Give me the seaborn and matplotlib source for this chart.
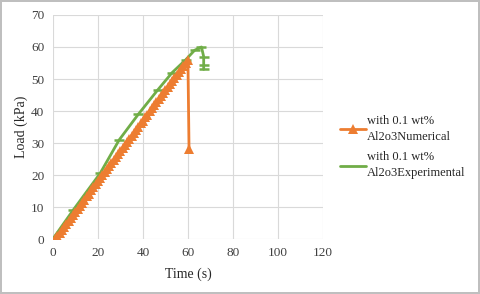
import numpy as np
import pandas as pd
import seaborn as sns
import matplotlib.pyplot as plt
from matplotlib.lines import Line2D

# numerical series (s, kPa)
num_time = [1, 2, 3, 4, 5, 6, 7, 8, 9, 10, 11, 12, 13, 14, 15, 16, 17, 18, 19, 20,
            21, 22, 23, 24, 25, 26, 27, 28, 29, 30, 31, 32, 33, 34, 35, 36, 37, 38, 39, 40,
            41, 42, 43, 44, 45, 46, 47, 48, 49, 50, 51, 52, 53, 54, 55, 56, 57, 58, 59, 60, 60.5]
num_load = [0, 0.9, 1.9, 2.8, 3.8, 4.7, 5.7, 6.6, 7.6, 8.5, 9.5, 10.4, 11.4, 12.3, 13.3,
            14.2, 15.2, 16.1, 17.1, 18.0, 19.0, 19.9, 20.9, 21.8, 22.8, 23.7, 24.7, 25.6,
            26.6, 27.5, 28.5, 29.4, 30.4, 31.3, 32.3, 33.2, 34.2, 35.1, 36.1, 37.0, 38.0,
            38.9, 39.9, 40.8, 41.8, 42.7, 43.7, 44.6, 45.6, 46.5, 47.5, 48.4, 49.4, 50.3,
            51.3, 52.2, 53.2, 54.1, 55.1, 56.0, 28.0]

# experimental series
exp_time = [0, 9, 21, 29.5, 38, 46.5, 53, 59, 63, 66, 67, 67, 67]
exp_load = [0, 9, 20.5, 31, 39, 46.5, 52, 56, 59, 60, 57, 54.5, 53]

orange = '#ED7D31'
green = '#70AD47'

df_num = pd.DataFrame({'t': num_time, 'load': num_load})
df_exp = pd.DataFrame({'t': exp_time, 'load': exp_load})

sns.set_style('white')
plt.rcParams['font.family'] = ['Liberation Serif', 'DejaVu Serif']

fig = plt.figure(figsize=(4.8, 2.94), dpi=100, edgecolor='#BFBFBF', linewidth=1.5)
ax = fig.add_axes([0.110, 0.187, 0.563, 0.762])

sns.lineplot(data=df_exp, x='t', y='load', sort=False, estimator=None, color=green,
             linewidth=2, marker='_', markersize=7, markeredgewidth=1.8,
             markeredgecolor=green, ax=ax)
sns.lineplot(data=df_num, x='t', y='load', sort=False, estimator=None, color=orange,
             linewidth=2, marker='^', markersize=7.5, markeredgewidth=0, ax=ax)

ax.set_xlim(0, 120)
ax.set_ylim(0, 70)
ax.set_xticks(range(0, 121, 20))
ax.set_yticks(range(0, 71, 10))
ax.grid(True, color='#D9D9D9', linewidth=0.8)
ax.set_axisbelow(True)
for s in ax.spines.values():
    s.set_visible(False)
ax.tick_params(length=0, labelsize=9.5, colors='#404040', pad=6)
ax.set_xlabel('Time (s)', fontsize=10, color='#262626', labelpad=6)
ax.set_ylabel('Load (kPa)', fontsize=10, color='#262626', labelpad=2)

handles = [Line2D([], [], color=orange, linewidth=2, marker='^', markersize=7, markeredgewidth=0),
           Line2D([], [], color=green, linewidth=2)]
labels = ['with 0.1 wt%\nAl2o3Numerical', 'with 0.1 wt%\nAl2o3Experimental']
leg = fig.legend(handles, labels, loc='center left', bbox_to_anchor=(0.685, 0.50), frameon=False,
                 fontsize=9, handlelength=2.1, handletextpad=0.05, labelspacing=0.7)
for t in leg.get_texts():
    t.set_linespacing(1.45)

fig.savefig('out.png', dpi=100)
